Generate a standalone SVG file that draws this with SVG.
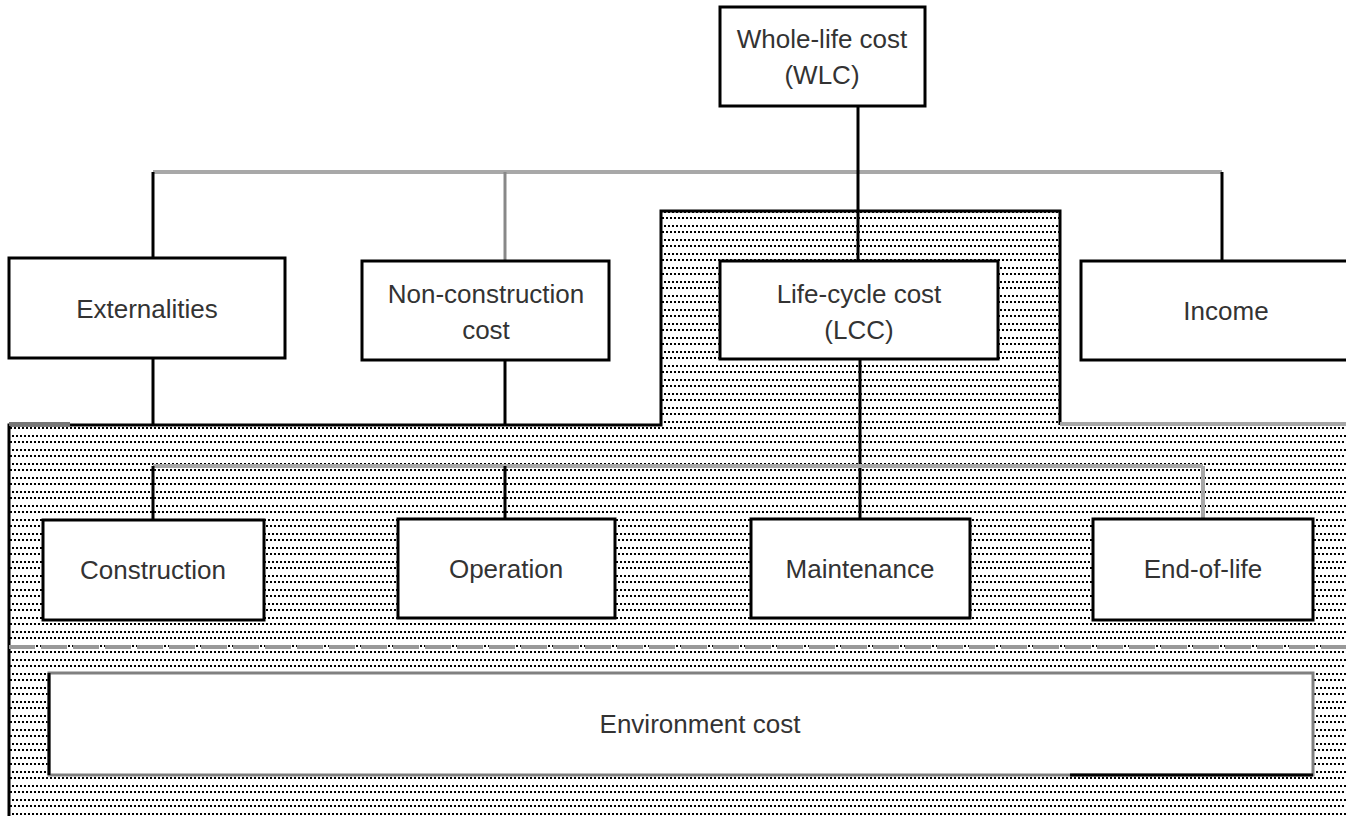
<svg xmlns="http://www.w3.org/2000/svg" width="1346" height="816" viewBox="0 0 1346 816">
<defs>
<pattern id="dots" patternUnits="userSpaceOnUse" width="16" height="14">
<rect x="0" y="1" width="2" height="2" fill="#000"/><rect x="4" y="1" width="2" height="2" fill="#000"/><rect x="8" y="1" width="2" height="2" fill="#000"/><rect x="12" y="1" width="2" height="2" fill="#000"/>
<rect x="2" y="7" width="2" height="2" fill="#000"/><rect x="6" y="7" width="2" height="2" fill="#000"/><rect x="10" y="7" width="2" height="2" fill="#000"/><rect x="14" y="7" width="2" height="2" fill="#000"/>
</pattern>
<style>
.box{fill:#fff;stroke:#000;stroke-width:3}
.t{font-family:"Liberation Sans",Arial,sans-serif;font-size:26px;fill:#333;text-anchor:middle}
.blk{stroke:#000;stroke-width:3;fill:none}
.gry{stroke:#a8a8a8;stroke-width:4;fill:none}
.dgry{stroke:#888;stroke-width:3;fill:none}
</style>
</defs>
<rect width="1346" height="816" fill="#fff"/>
<g id="regions">
<polygon points="9,425 661,425 661,211 1060,211 1060,425 1346,425 1346,816 9,816" fill="url(#dots)"/>
<path class="blk" d="M9,816 V425 H661 V211 H1060 V425"/>
<path class="gry" d="M1060,424 H1346"/>
<path d="M9,424 H70" stroke="#777" stroke-width="4"/>
</g>
<g id="connectors">
<path class="gry" d="M153,172 H1222"/>
<path class="blk" d="M858,106 V261"/>
<path class="blk" d="M153,172 V258"/>
<path class="dgry" d="M505,172 V261"/>
<path class="blk" d="M1222,172 V261"/>
<path class="blk" d="M153,358 V425"/>
<path class="blk" d="M505,360 V425"/>
<path class="blk" d="M860,359 V519"/>
<path class="gry" d="M153,466 H1203"/>
<path class="blk" d="M153,466 V520"/>
<path class="blk" d="M505,466 V519"/>
<path class="gry" d="M1203,466 V519"/>
<path d="M9,647 H1346" stroke="#999" stroke-width="4" stroke-dasharray="26,6"/>
</g>
<g id="wlc"><rect class="box" x="720" y="7" width="205" height="99"/><text class="t" x="822" y="48">Whole-life cost</text><text class="t" x="822" y="84">(WLC)</text></g>
<g id="externalities"><rect class="box" x="9" y="258" width="276" height="100"/><text class="t" x="147" y="318">Externalities</text></g>
<g id="nonconstruction"><rect class="box" x="362" y="261" width="247" height="99"/><text class="t" x="486" y="303">Non-construction</text><text class="t" x="486" y="339">cost</text></g>
<g id="lcc"><rect class="box" x="720" y="261" width="278" height="98"/><text class="t" x="859" y="303">Life-cycle cost</text><text class="t" x="859" y="339">(LCC)</text></g>
<g id="income"><rect class="box" x="1081" y="261" width="280" height="99"/><text class="t" x="1226" y="320">Income</text></g>
<g id="construction"><rect class="box" x="43" y="520" width="221" height="100"/><text class="t" x="153" y="579">Construction</text></g>
<g id="operation"><rect class="box" x="398" y="519" width="217" height="99"/><text class="t" x="506" y="578">Operation</text></g>
<g id="maintenance"><rect class="box" x="751" y="519" width="219" height="99"/><text class="t" x="860" y="578">Maintenance</text></g>
<g id="endoflife"><rect class="box" x="1093" y="519" width="220" height="101"/><text class="t" x="1203" y="578">End-of-life</text></g>
<g id="environment"><rect x="49" y="673" width="1264" height="102" fill="#fff" stroke="#808080" stroke-width="3"/><path d="M49,673 V775 M1070,775 H1313" stroke="#000" stroke-width="3" fill="none"/><text class="t" x="700" y="733">Environment cost</text></g>
</svg>
